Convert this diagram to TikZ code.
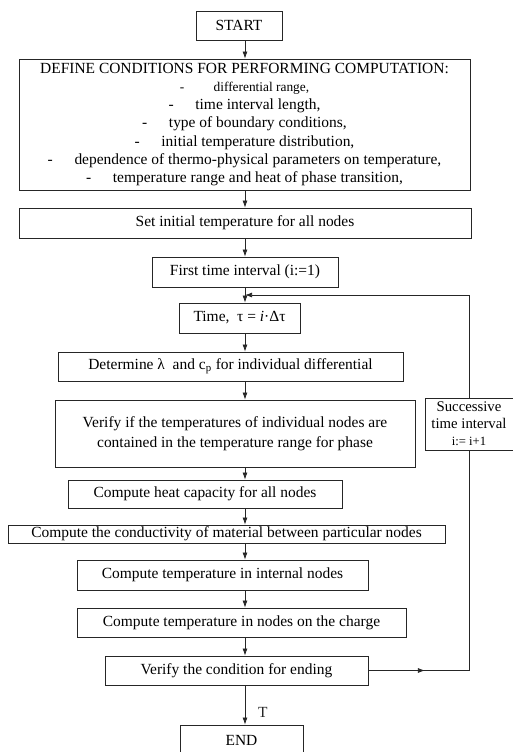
\documentclass[tikz,border=0pt]{standalone}
\usepackage{fontspec}
\setmainfont{Liberation Serif}
\usetikzlibrary{positioning,arrows.meta}

\begin{document}
\begin{tikzpicture} [x=0.025cm,y=-0.025cm,every node/.style={font=\fontsize{11}{13}\selectfont},
box/.style={draw=black!85,line width=0.5pt,inner sep=1pt,align=center},
flow/.style={->,>={Latex[length=5pt,width=3.5pt]},line width=0.5pt,black!85}]

\useasboundingbox (0,0) rectangle (513,752);

\coordinate (ax) at (245,0);
\coordinate (jn) at (245,295);
\coordinate (mk) at (425,670.5);

\node[box,minimum width=2.15cm,minimum height=0.725cm] (start) at (239,25.5) {START};
\node[box,minimum width=11.275cm,minimum height=3.275cm] (define) at (244.5,124.5)
{{\fontsize{11}{13}\selectfont DEFINE CONDITIONS FOR PERFORMING COMPUTATION:}\\
{\fontsize{9.5}{13}\selectfont -\hspace{2.2em}differential range,}\\
-\hspace{1.4em}time interval length,\\
-\hspace{1.4em}type of boundary conditions,\\
-\hspace{1.4em}initial temperature distribution,\\
-\hspace{1.4em}dependence of thermo-physical parameters on temperature,\\
-\hspace{1.4em}temperature range and heat of phase transition,};
\node[box,minimum width=11.3cm,minimum height=0.75cm] (init) at (245,223) {Set initial temperature for all nodes};
\node[box,minimum width=4.65cm,minimum height=0.75cm] (first) at (245,272) {First time interval (i:=1)};
\node[box,minimum width=3.025cm,minimum height=0.75cm] (time) at (239.5,318) {Time,\ \ τ = \textit{i}·Δτ};
\node[box,minimum width=8.625cm,minimum height=0.725cm] (lambda) at (230.5,366.5) {Determine λ\ \ and c\textsubscript{p} for individual differential};
\node[box,minimum width=9cm,minimum height=1.675cm,font=\fontsize{11}{14.2}\selectfont] (phase) at (235,433.5) {Verify if the temperatures of individual nodes are\\contained in the temperature range for phase};
\node[box,minimum width=2.2cm,minimum height=1.3cm,font=\fontsize{10.5}{12}\selectfont] (succ) at (469,424) {Successive\\time interval\\{\fontsize{9}{10}\selectfont i:= i+1}};
\node[box,minimum width=6.85cm,minimum height=0.7cm] (heat) at (205,494) {Compute heat capacity for all nodes};
\node[box,minimum width=10.925cm,minimum height=0.45cm] (cond) at (226.5,534) {Compute the conductivity of material between particular nodes};
\node[box,minimum width=7.275cm,minimum height=0.75cm] (inner) at (222.5,575) {Compute temperature in internal nodes};
\node[box,minimum width=8.225cm,minimum height=0.725cm] (charge) at (241.5,622.5) {Compute temperature in nodes on the charge};
\node[box,minimum width=6.575cm,minimum height=0.725cm] (verend) at (236.5,670.5) {Verify the condition for ending};
\node[box,minimum width=3.075cm,minimum height=0.75cm] (end) at (241.5,740) {END};

\draw[flow](start.south -| ax)--(define.north -| ax);
\draw[flow](define.south -| ax)--(init.north -| ax);
\draw[flow](init.south -| ax)--(first.north -| ax);
\draw[flow](first.south -| ax)--(time.north -| ax);
\draw[flow](time.south -| ax)--(lambda.north -| ax);
\draw[flow](lambda.south -| ax)--(phase.north -| ax);
\draw[flow](phase.south -| ax)--(heat.north -| ax);
\draw[flow](heat.south -| ax)--(cond.north -| ax);
\draw[flow](cond.south -| ax)--(inner.north -| ax);
\draw[flow](inner.south -| ax)--(charge.north -| ax);
\draw[flow](charge.south -| ax)--(verend.north -| ax);
\draw[flow](verend.south -| ax)to node [right,pos=0.7,xshift=0.2cm] {T}(end.north -| ax);

\draw[line width=0.5pt,black!85](verend.east)--(verend.east -| succ.south)--(succ.south);
\draw[flow](verend.east)--(mk);
\draw[flow](succ.north)|-(jn);
\end{tikzpicture}
\end{document}
